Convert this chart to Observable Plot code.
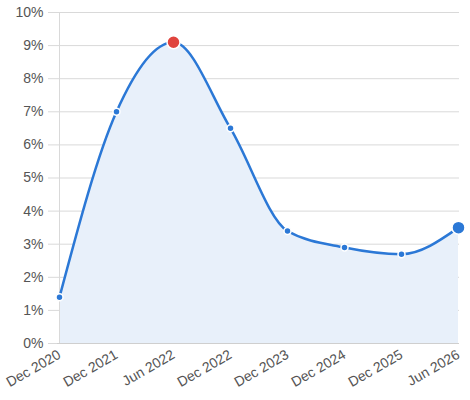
<!DOCTYPE html>
<html><head><meta charset="utf-8">
<script src="https://cdn.jsdelivr.net/npm/d3@7"></script>
<script src="https://cdn.jsdelivr.net/npm/@observablehq/plot@0.6"></script>
<style>body{margin:0;background:#fff;} svg{display:block;}</style>
</head><body><div id="chart"></div>
<script>
const periods = ["Dec 2020","Dec 2021","Jun 2022","Dec 2022","Dec 2023","Dec 2024","Dec 2025","Jun 2026"];
const rates = [0.014,0.070,0.091,0.065,0.034,0.029,0.027,0.035];
const yTicks = [0,0.01,0.02,0.03,0.04,0.05,0.06,0.07,0.08,0.09,0.10];
const peakIndex = 2;
const data = periods.map((p,i)=>({p, v:rates[i], i}));
const mid = data.filter(d => d.i !== peakIndex && d.i !== data.length-1);
const peak = data.filter(d => d.i === peakIndex);
const last = data.filter(d => d.i === data.length-1);
const blue = "#2b78d6";
const chart = Plot.plot({
  width: 470, height: 400,
  marginLeft: 57, marginRight: 11, marginTop: 12, marginBottom: 57,
  style: {fontFamily: "'Liberation Sans', Arial, sans-serif", fontSize: "14px", background: "#fff"},
  x: {type: "point", domain: periods, padding: 0, label: null},
  y: {domain: [0, 0.1], label: null},
  marks: [
    Plot.gridY(yTicks, {stroke: "#d9d9d9", strokeOpacity: 1}),
    Plot.areaY(data, {x: "p", y: "v", curve: "monotone-x", fill: "#e8f0fa"}),
    Plot.axisY(yTicks, {tickFormat: d3.format(".0%"), tickSize: 9, stroke: "#d9d9d9", fill: "#555", tickPadding: 5, fontSize: 14}),
    Plot.axisX({tickSize: 0, tickRotate: -30, fill: "#555", tickPadding: 10, fontSize: 14, textAnchor: "end"}),
    Plot.ruleX([periods[0]], {stroke: "#d9d9d9"}),
    Plot.ruleY([0], {stroke: "#cfcfcf"}),
    Plot.lineY(data, {x: "p", y: "v", curve: "monotone-x", stroke: blue, strokeWidth: 2.5}),
    Plot.dot(mid, {x: "p", y: "v", r: 3.5, fill: blue, stroke: "#fff", strokeWidth: 1.5}),
    Plot.dot(peak, {x: "p", y: "v", r: 6.5, fill: "#e0443e", stroke: "#fff", strokeWidth: 1.5}),
    Plot.dot(last, {x: "p", y: "v", r: 6.5, fill: blue, stroke: "#fff", strokeWidth: 1.5})
  ]
});
document.getElementById("chart").append(chart);
</script></body></html>
